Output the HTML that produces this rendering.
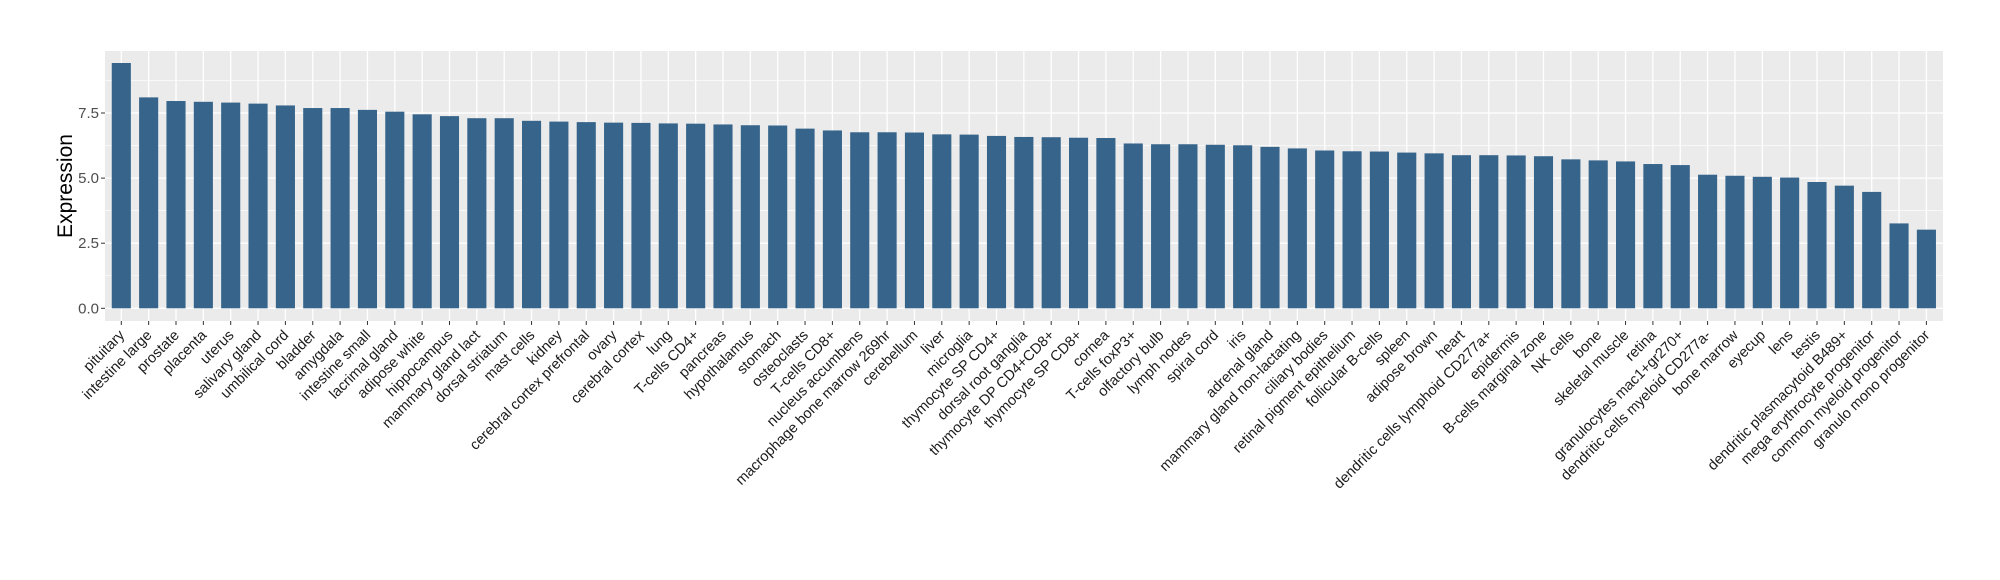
<!DOCTYPE html>
<html><head><meta charset="utf-8"><style>
html,body{margin:0;padding:0;background:#fff;}
svg{display:block;font-family:"Liberation Sans",Arial,sans-serif;}
</style></head><body>
<svg id="s" width="2000" height="580" xmlns="http://www.w3.org/2000/svg">
<rect x="0" y="0" width="2000" height="580" fill="#fff"/>
<rect x="105" y="51" width="1838" height="270" fill="#ebebeb"/>
<g id="grid"></g><g id="bars"></g><g id="ticks"></g><g id="labels"></g>
<text transform="translate(72,186) rotate(-90)" text-anchor="middle" font-size="21" fill="#000">Expression</text>
</svg>
<script>
var names=["pituitary","intestine large","prostate","placenta","uterus","salivary gland","umbilical cord","bladder","amygdala","intestine small","lacrimal gland","adipose white","hippocampus","mammary gland  lact","dorsal striatum","mast cells","kidney","cerebral cortex prefrontal","ovary","cerebral cortex","lung","T-cells CD4+","pancreas","hypothalamus","stomach","osteoclasts","T-cells CD8+","nucleus accumbens","macrophage bone marrow 269hr","cerebellum","liver","microglia","thymocyte SP CD4+","dorsal root ganglia","thymocyte DP CD4+CD8+","thymocyte SP CD8+","cornea","T-cells foxP3+","olfactory bulb","lymph nodes","spiral cord","iris","adrenal gland","mammary gland non-lactating","ciliary bodies","retinal pigment epithelium","follicular B-cells","spleen","adipose brown","heart","dendritic cells lymphoid CD277a+","epidermis","B-cells marginal zone","NK cells","bone","skeletal muscle","retina","granulocytes mac1+gr270+","dendritic cells myeloid CD277a-","bone marrow","eyecup","lens","testis","dendritic plasmacytoid B489+","mega erythrocyte progenitor","common myeloid progenitor","granulo mono progenitor"];
var vals=[9.42,8.10,7.96,7.93,7.90,7.86,7.79,7.69,7.69,7.62,7.55,7.45,7.38,7.30,7.30,7.20,7.17,7.15,7.13,7.12,7.10,7.09,7.06,7.03,7.02,6.90,6.83,6.76,6.76,6.75,6.68,6.67,6.62,6.58,6.57,6.55,6.54,6.33,6.30,6.30,6.28,6.26,6.20,6.14,6.06,6.03,6.02,5.98,5.95,5.88,5.88,5.87,5.84,5.72,5.68,5.64,5.54,5.50,5.13,5.09,5.05,5.02,4.85,4.71,4.47,3.26,3.02];
var NS="http://www.w3.org/2000/svg";
function el(p,t,a,txt){var e=document.createElementNS(NS,t);for(var k in a)e.setAttribute(k,a[k]);if(txt!=null)e.textContent=txt;document.getElementById(p).appendChild(e);return e;}
var y0=308.3,u=26.04,x0=121.3,dx=27.35,bw=19.1;
for(var v=1.25;v<10;v+=2.5){var y=y0-v*u;el("grid","line",{x1:105,x2:1943,y1:y,y2:y,stroke:"#fff","stroke-width":0.6});}
for(var v=0;v<10;v+=2.5){var y=y0-v*u;el("grid","line",{x1:105,x2:1943,y1:y,y2:y,stroke:"#fff","stroke-width":1.3});
el("ticks","line",{x1:101,x2:105,y1:y,y2:y,stroke:"#333","stroke-width":1});
el("ticks","text",{x:99,y:y+5,"text-anchor":"end","font-size":15,fill:"#4d4d4d"},v.toFixed(1));}
for(var i=0;i<names.length;i++){var cx=x0+dx*i;
el("grid","line",{x1:cx,x2:cx,y1:51,y2:321,stroke:"#fff","stroke-width":1.3});
el("bars","rect",{x:cx-bw/2,y:y0-vals[i]*u,width:bw,height:vals[i]*u,fill:"#36648b"});
el("ticks","line",{x1:cx,x2:cx,y1:321,y2:325,stroke:"#333","stroke-width":1});
var tx=cx+4,ty=336;
el("labels","text",{x:tx,y:ty,"text-anchor":"end","font-size":14.6,fill:"#1a1a1a",transform:"rotate(-45 "+tx+" "+ty+")"},names[i]);}
</script>
</body></html>
